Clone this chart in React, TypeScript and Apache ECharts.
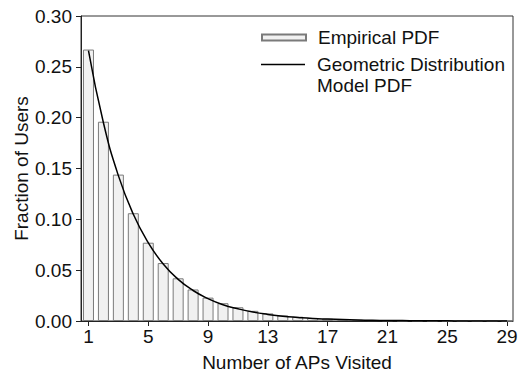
import React, { useEffect, useRef } from "react";
import * as echarts from "echarts";

const apCounts = [1, 2, 3, 4, 5, 6, 7, 8, 9, 10, 11, 12, 13, 14, 15, 16, 17, 18, 19, 20, 21, 22, 23, 24, 25, 26, 27, 28, 29];
const empiricalPdf = [0.267, 0.196, 0.144, 0.106, 0.077, 0.057, 0.042, 0.031, 0.023, 0.0175, 0.0135, 0.010, 0.0075, 0.0055, 0.0042, 0.003, 0.0022, 0.0016, 0.0012, 0.0009, 0.0007, 0.0005, 0.0004, 0.0003, 0.0002, 0.00015, 0.0001, 0.0001, 0.00005];
const modelPdf = [0.266, 0.195, 0.143, 0.105, 0.077, 0.056, 0.041, 0.030, 0.022, 0.016, 0.012, 0.0088, 0.0065, 0.0047, 0.0035, 0.0025, 0.0019, 0.0014, 0.0010, 0.0007, 0.0005, 0.0004, 0.0003, 0.0002, 0.00015, 0.0001, 0.00008, 0.00006, 0.00004];
const xTickValues = [1, 5, 9, 13, 17, 21, 25, 29];
const seriesNames = ["Empirical PDF", "Geometric Distribution Model PDF"];
const legendLabels = ["Empirical PDF", "\u00a0\nGeometric Distribution\nModel PDF"];
const xAxisTitle = "Number of APs Visited";
const yAxisTitle = "Fraction of Users";

const FONT = "Liberation Sans, Arial, Helvetica, sans-serif";
const FS = 19;

export default function App() {
  const ref = useRef<HTMLDivElement>(null);
  useEffect(() => {
    document.body.style.margin = "0";
    if (!ref.current) return;
    const chart = echarts.init(ref.current, null, { renderer: "svg" });
    const axisColor = "#222";
    const legendBase = {
      left: 261,
      orient: "vertical",
      itemWidth: 51,
      itemHeight: 14,
      padding: 0,
      textStyle: { fontSize: FS, color: "#111", fontFamily: FONT, lineHeight: 21 },
      formatter: (name: string) => legendLabels[seriesNames.indexOf(name)],
    };
    chart.setOption({
      animation: false,
      backgroundColor: "#fff",
      textStyle: { fontFamily: FONT },
      grid: {
        left: 81,
        right: 5,
        top: 16,
        bottom: 57,
        containLabel: false,
        outerBoundsMode: "none",
        show: true,
        borderColor: "#333",
        borderWidth: 1,
      },
      legend: [
        {
          ...legendBase,
          top: 27,
          data: [{ name: seriesNames[0], icon: "path://M0,0 L44,0 L44,6 L0,6 Z M51,6" }],
        },
        {
          ...legendBase,
          top: 33,
          data: [{ name: seriesNames[1], icon: "path://M0,0 L44,0 L44,1.5 L0,1.5 Z M51,1.5" }],
        },
      ],
      xAxis: {
        type: "value",
        min: 0.5,
        max: 29.4,
        name: xAxisTitle,
        nameLocation: "middle",
        nameGap: 32,
        nameTextStyle: { fontSize: FS, color: "#111", fontFamily: FONT },
        splitLine: { show: false },
        axisLine: { onZero: false, lineStyle: { color: axisColor, width: 1 } },
        axisTick: { inside: false, length: 5, customValues: xTickValues, lineStyle: { color: axisColor } },
        axisLabel: {
          customValues: xTickValues,
          fontSize: FS,
          color: "#111",
          margin: 6,
          fontFamily: FONT,
        },
      },
      yAxis: {
        type: "value",
        min: 0,
        max: 0.3,
        interval: 0.05,
        name: yAxisTitle,
        nameLocation: "middle",
        nameGap: 50,
        nameMoveOverlap: false,
        nameTextStyle: { fontSize: FS, color: "#111", fontFamily: FONT },
        splitLine: { show: false },
        axisLine: { show: true, lineStyle: { color: axisColor, width: 1 } },
        axisTick: { show: true, inside: false, length: 5, lineStyle: { color: axisColor } },
        axisLabel: {
          fontSize: FS,
          color: "#111",
          margin: 9,
          fontFamily: FONT,
          formatter: (v: number) => v.toFixed(2),
        },
      },
      series: [
        {
          name: seriesNames[0],
          type: "bar",
          barWidth: 11,
          data: apCounts.map((x, i) => [x, empiricalPdf[i]]),
          itemStyle: { color: "#f1f1f1", borderColor: "#7a7a7a", borderWidth: 1 },
        },
        {
          name: seriesNames[1],
          type: "line",
          data: apCounts.map((x, i) => [x, modelPdf[i]]),
          smooth: true,
          symbol: "none",
          showSymbol: false,
          lineStyle: { color: "#000", width: 1.5 },
          itemStyle: { color: "#000" },
        },
      ],
    });
    return () => chart.dispose();
  }, []);
  return <div ref={ref} style={{ width: 518, height: 378 }} />;
}
